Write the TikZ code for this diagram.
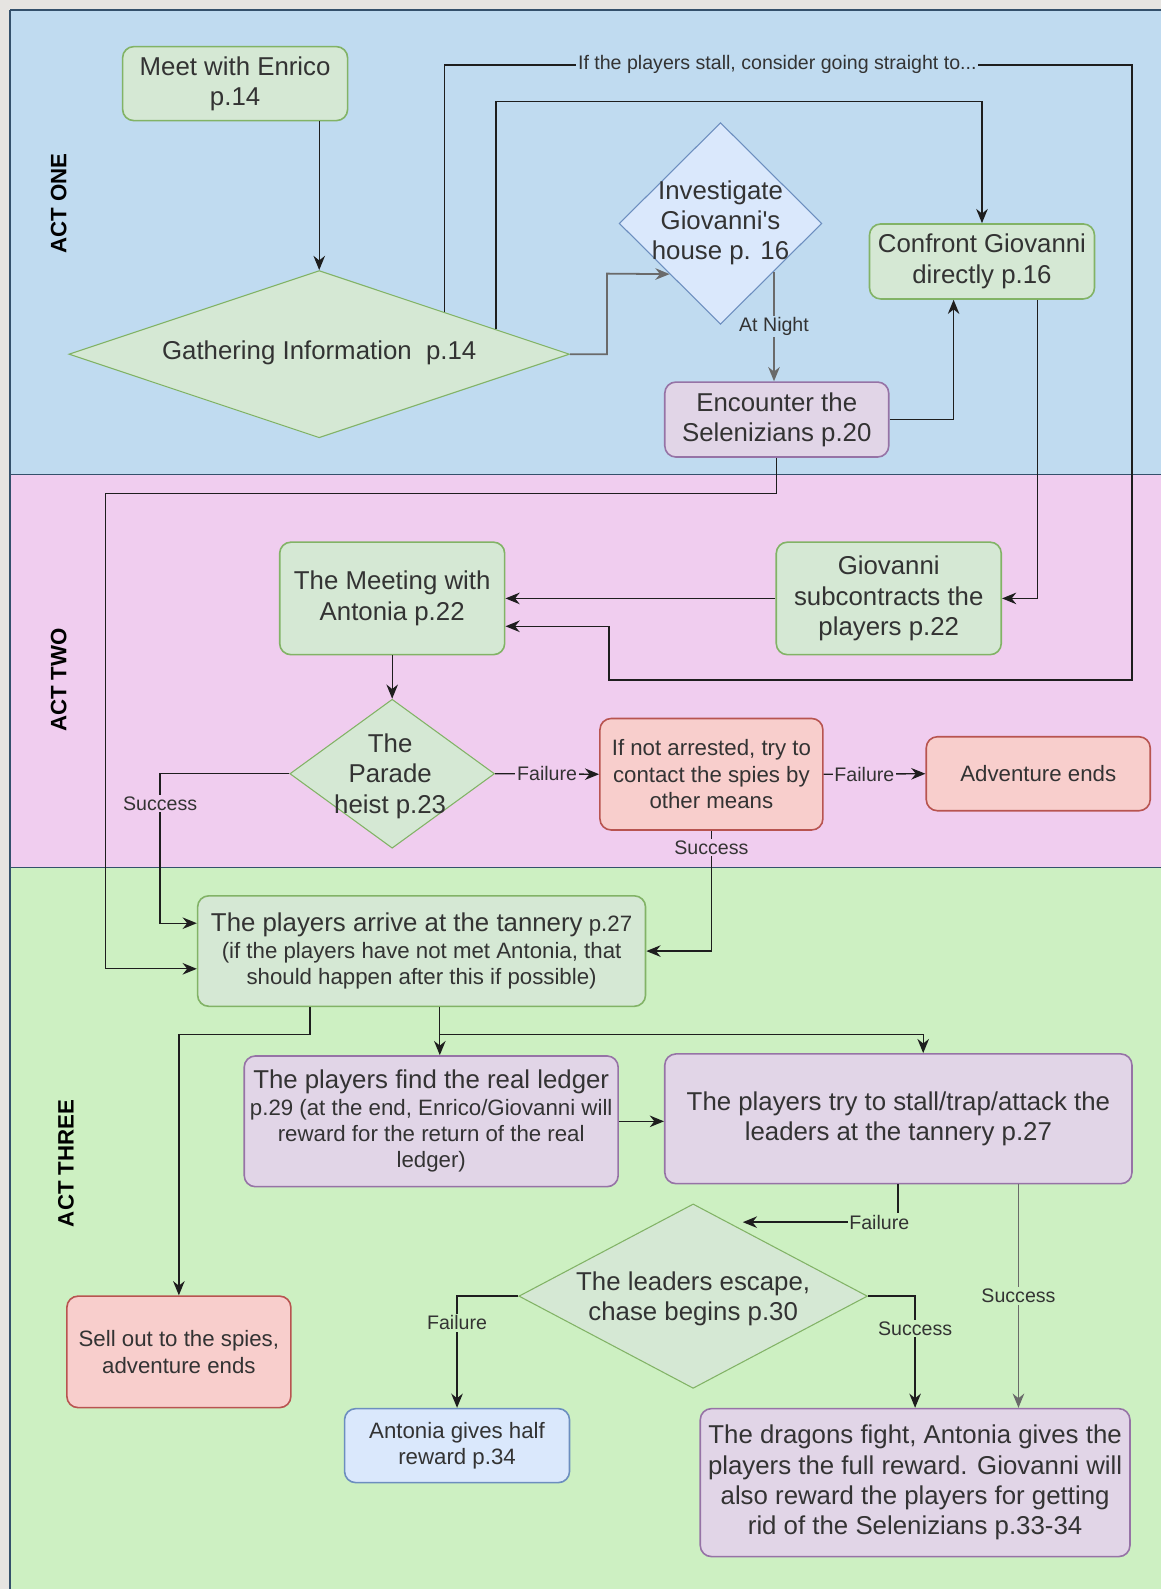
\documentclass[tikz,border=0pt]{standalone}
\usepackage{fontspec}
\setmainfont{Liberation Sans}
\usetikzlibrary{shapes.geometric,arrows.meta}

\definecolor{outer}{HTML}{E6E4E1}
\definecolor{laneA}{HTML}{C0DBF0}
\definecolor{laneB}{HTML}{F0CDEF}
\definecolor{laneC}{HTML}{CDF0C2}
\definecolor{laneline}{HTML}{34506B}
\definecolor{gfill}{HTML}{D5E8D4}
\definecolor{gline}{HTML}{82B366}
\definecolor{bfill}{HTML}{DAE8FC}
\definecolor{bline}{HTML}{6C8EBF}
\definecolor{rfill}{HTML}{F8CECC}
\definecolor{rline}{HTML}{B85450}
\definecolor{pfill}{HTML}{E1D5E7}
\definecolor{pline}{HTML}{9673A6}
\definecolor{txt}{HTML}{333333}
\definecolor{edge}{HTML}{1E1E1E}
\definecolor{edgegray}{HTML}{6A6A6A}

\newcommand\fbig{\fontsize{14.5}{17}\selectfont}
\newcommand\fsmall{\fontsize{12.5}{14.8}\selectfont}
\newcommand\flbl{\fontsize{11}{13}\selectfont}

\tikzset{
    box/.style={rounded corners=0.22cm, line width=0.9pt, align=center, inner sep=0pt, text=txt, font=\fbig},
    gbox/.style={box, fill=gfill, draw=gline},
    bbox/.style={box, fill=bfill, draw=bline},
    rbox/.style={box, fill=rfill, draw=rline},
    pbox/.style={box, fill=pfill, draw=pline},
    dims/.style 2 args={minimum width=#1*0.02cm, minimum height=#2*0.02cm},
    decision/.style={diamond, line width=0.6pt, inner sep=0pt},
    dtext/.style={align=center, text=txt, font=\fbig},
    arr/.style={draw=edge, line width=0.75pt, -{Stealth[length=8pt,width=6.5pt]}},
    grayarr/.style={arr, draw=edgegray, line width=1pt},
    lbl/.style={fill=#1, inner sep=1pt, text=txt, font=\flbl},
    lbl/.default=laneC,
    lanetitle/.style={rotate=90, font=\bfseries\fsmall, text=black},
}

\begin{document}
\begin{tikzpicture}[x=0.02cm, y=-0.02cm]
        \useasboundingbox (0,0) rectangle (1146,1568);
        \fill[outer] (0,0) rectangle (1146,1568);

        % lanes
        \foreach \ya/\yb/\col/\title/\tx/\ty in {10/468/laneA/ACT ONE/58/201,468/856/laneB/ACT TWO/58/671,856/1568/laneC/ACT THREE/65/1148} {
                \fill[\col] (10,\ya) rectangle (1146,\yb);
                \draw[laneline, line width=0.8pt] (10,\ya) -- (1146,\ya);
                \node[lanetitle] (\col-title) at (\tx,\ty) {\title};
            }
        \draw[laneline, line width=0.8pt] (10,10) -- (10,1568);

        % act one
        \node[gbox, dims={222}{73}] (meet) at (232,82.5) {Meet with Enrico\\p.14};
        \node[decision, fill=gfill, draw=gline, dims={494}{165}] (gath) at (315,349.5) {};
        \node[dtext] (gath-t) at (315,348) {Gathering Information\ \ p.14};
        \node[decision, fill=bfill, draw=bline, dims={200}{199}] (inv) at (711,220.5) {};
        \node[dtext] (inv-t) at (711,220) {Investigate\\Giovanni\textquotesingle s\\house p. 16};
        \node[gbox, dims={222}{74}] (conf) at (969,258) {Confront Giovanni\\directly p.16};
        \node[pbox, dims={221}{74}] (enc) at (766.5,414) {Encounter the\\Selenizians p.20};

        % act two
        \node[gbox, dims={222}{111}] (meeting) at (387,590.5) {The Meeting with\\Antonia p.22};
        \node[gbox, dims={222}{111}] (giov) at (877,590.5) {Giovanni\\subcontracts the\\players p.22};
        \node[decision, fill=gfill, draw=gline, dims={202}{147}] (parade) at (387,763.5) {};
        \node[dtext] (parade-t) at (385,766) {The\\Parade\\heist p.23};
        \node[rbox, font=\fsmall, dims={220}{110}] (notarr) at (702,764) {If not arrested, try to\\contact the spies by\\other means};
        \node[rbox, font=\fsmall, dims={221}{73}] (advends) at (1024.5,763.5) {Adventure ends};

        % act three
        \node[gbox, font=\fsmall, dims={442}{109}] (tannery) at (416,938.5) {{\fbig The players arrive at the tannery} p.27\\(if the players have not met Antonia, that\\should happen after this if possible)};
        \node[pbox, font=\fsmall, dims={369}{129}] (ledger) at (425.5,1106.5) {{\fbig The players find the real ledger}\\p.29 (at the end, Enrico/Giovanni will\\reward for the return of the real\\ledger)};
        \node[pbox, dims={461}{128}] (stall) at (886.5,1104) {The players try to stall/trap/attack the\\leaders at the tannery p.27};
        \node[decision, fill=gfill, draw=gline, dims={344}{182}] (esc) at (684,1279) {};
        \node[dtext] (esc-t) at (684,1282) {The leaders escape,\\chase begins p.30};
        \node[rbox, font=\fsmall, dims={221}{110}] (sellout) at (176.5,1334) {Sell out to the spies,\\adventure ends};
        \node[bbox, font=\fsmall, dims={222}{73}] (half) at (451,1426.5) {Antonia gives half\\reward p.34};
        \node[pbox, dims={424}{146}] (dragons) at (903,1463) {The dragons fight, Antonia gives the\\players the full reward. Giovanni will\\also reward the players for getting\\rid of the Selenizians p.33-34};
        \coordinate (escin) at (733,1206);

        % connectors
        \draw[arr] (meet.south -| gath.north) -- (gath.north);
        \draw[arr] (gath.north east) |- node[lbl=laneA, pos=0.742] {If the players stall, consider going straight to...} (1117,64) |- (601,671) -- (601,618) -- (meeting.east |- 0,618);
        \draw[arr] (gath.8) |- (969,100) -- (conf.north);
        \draw[grayarr] (gath.east) -| (599,270) -- (inv.south west);
        \draw[grayarr] (inv.-42) -- node[lbl=laneA] {At Night} (inv.-42 |- enc.north);
        \draw[arr] (enc.east) -| (conf.south -| 941,0);
        \draw[arr] (enc.south) |- (104,487) |- (tannery.west |- 0,956);
        \draw[arr] (conf.south -| 1024,0) |- (giov.east);
        \draw[arr] (giov.west) -- (meeting.east);
        \draw[arr] (meeting.south) -- (parade.north);
        \draw[arr] (parade.east) -- node[lbl=laneB] {Failure} (notarr.west);
        \draw[arr] (parade.west) -| node[lbl=laneB, pos=0.6] {Success} (158,911) -- (tannery.west |- 0,911);
        \draw[arr] (notarr.east) -- node[lbl=laneB, pos=0.4] {Failure} (advends.west);
        \draw[arr] (notarr.south) |- node[lbl=laneB, pos=0.07] {Success} (tannery.east);
        \draw[arr] (tannery.south -| 306,0) |- (sellout.north |- 0,1021) -- (sellout.north);
        \draw[arr] (tannery.south -| 434,0) -- (ledger.north -| 434,0);
        \draw[arr] (tannery.south -| 434,0) |- (911,1021) -- (stall.north -| 911,0);
        \draw[arr] (ledger.east) -- (ledger.east -| stall.west);
        \draw[arr] (stall.south -| 886,0) |- node[lbl, pos=0.56] {Failure} (escin);
        \draw[grayarr] (stall.south -| 1005,0) -- node[lbl] {Success} (dragons.north -| 1005,0);
        \draw[arr] (esc.east) -| node[lbl, pos=0.644] {Success} (dragons.north);
        \draw[arr] (esc.west) -| node[lbl, pos=0.62] {Failure} (half.north);

    \end{tikzpicture}
\end{document}
